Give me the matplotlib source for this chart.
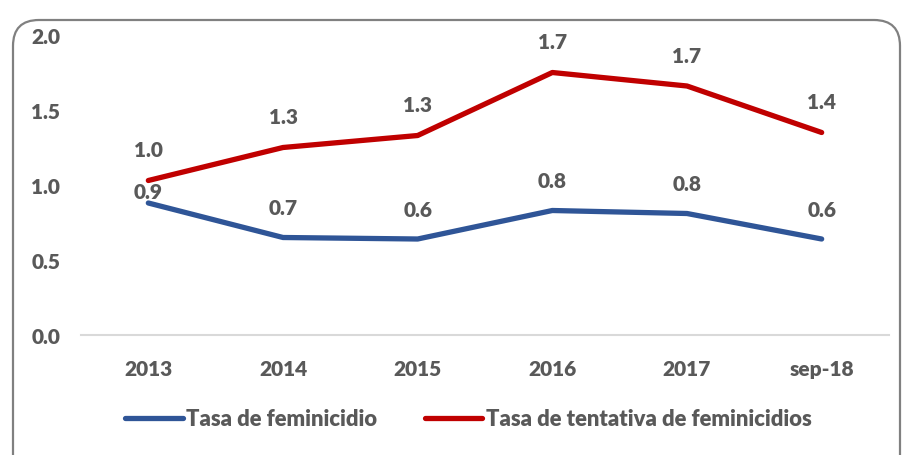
import matplotlib.pyplot as plt
from matplotlib.patches import FancyBboxPatch

years = ["2013", "2014", "2015", "2016", "2017", "sep-18"]
feminicidio = [0.88, 0.65, 0.64, 0.83, 0.81, 0.64]
tentativa = [1.03, 1.25, 1.33, 1.75, 1.66, 1.35]
fem_labels = ["0.9", "0.7", "0.6", "0.8", "0.8", "0.6"]
tent_labels = ["1.0", "1.3", "1.3", "1.7", "1.7", "1.4"]

plt.rcParams['font.family'] = ['Lato', 'DejaVu Sans']
wt = 'heavy'
txt = '#595959'
blue = '#2F5597'
red = '#C00000'

fig = plt.figure(figsize=(9.06, 4.56), dpi=100)

# frame with rounded corners, drawn in pixel units
bg = fig.add_axes([0, 0, 1, 1])
bg.set_xlim(0, 906)
bg.set_ylim(0, 456)
bg.axis('off')
bg.add_patch(FancyBboxPatch((13, -40), 887, 475, boxstyle="round,pad=0,rounding_size=26",
                            fc='white', ec='#808080', lw=1.6))

ax = fig.add_axes([81/906, 120/456, 808/906, 300/456])
ax.patch.set_alpha(0)
x = list(range(len(years)))
ax.plot(x, feminicidio, color=blue, lw=3.8, solid_capstyle='round', solid_joinstyle='round',
        label='Tasa de feminicidio')
ax.plot(x, tentativa, color=red, lw=3.8, solid_capstyle='round', solid_joinstyle='round',
        label='Tasa de tentativa de feminicidios')

# label offsets (points above the point)
fem_off = [8, 21.5, 21.5, 21.5, 21.5, 21.5]
for i in x:
    ax.annotate(fem_labels[i], (i, feminicidio[i]), xytext=(0, fem_off[i]), textcoords='offset points',
                ha='center', va='center', fontsize=15, fontweight=wt, color=txt)
    ax.annotate(tent_labels[i], (i, tentativa[i]), xytext=(0, 22), textcoords='offset points',
                ha='center', va='center', fontsize=15, fontweight=wt, color=txt)

ax.set_xlim(-0.5, 5.5)
ax.set_ylim(0, 2.0)
ax.set_yticks([0, 0.5, 1.0, 1.5, 2.0])
ax.set_yticklabels(["0.0", "0.5", "1.0", "1.5", "2.0"])
ax.set_xticks(x)
ax.set_xticklabels(years)
ax.tick_params(length=0, labelsize=15, labelcolor=txt, pad=17)
ax.tick_params(axis='y', pad=15)
for lbl in ax.get_xticklabels() + ax.get_yticklabels():
    lbl.set_fontweight(wt)
for s in ['top', 'right', 'left']:
    ax.spines[s].set_visible(False)
ax.spines['bottom'].set_color('#D9D9D9')
ax.spines['bottom'].set_linewidth(1.5)

leg = fig.legend(loc='center', bbox_to_anchor=(0.517, 1 - 420/456), ncol=2, frameon=False,
                 fontsize=15.8, handlelength=2.6, handletextpad=0.15, columnspacing=2.2)
for t in leg.get_texts():
    t.set_color(txt)
    t.set_fontweight(wt)

fig.savefig('out.png', dpi=100)
